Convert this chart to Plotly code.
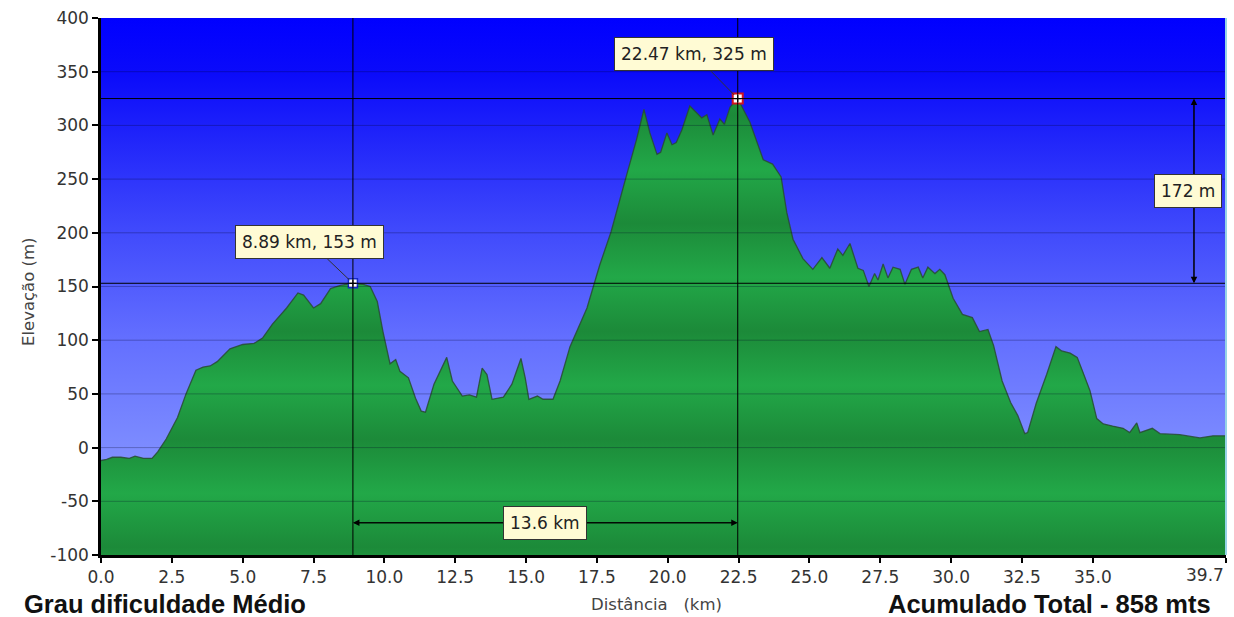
import plotly.graph_objects as go

# ---------------- data ----------------
distance_km = [
    0.0, 0.2, 0.4, 0.7, 1.0, 1.2, 1.5, 1.8, 2.0, 2.3, 2.7, 3.0, 3.35, 3.6, 3.85, 4.1,
    4.55, 5.0, 5.4, 5.7, 6.05, 6.55, 6.95, 7.15, 7.5, 7.75, 8.1, 8.45, 8.89, 9.25,
    9.5, 9.75, 9.95, 10.2, 10.4, 10.55, 10.85, 11.1, 11.3, 11.45, 11.75, 12.2, 12.4,
    12.75, 13.0, 13.25, 13.45, 13.62, 13.8, 14.2, 14.5, 14.82, 14.97, 15.1, 15.4,
    15.6, 15.95, 16.2, 16.55, 17.15, 17.6, 18.0, 18.55, 18.9, 19.16, 19.37, 19.62,
    19.75, 19.97, 20.15, 20.3, 20.5, 20.78, 21.03, 21.2, 21.38, 21.6, 21.84, 22.0,
    22.2, 22.47, 22.9, 23.37, 23.7, 24.0, 24.2, 24.42, 24.77, 25.12, 25.44, 25.72,
    26.0, 26.18, 26.43, 26.71, 26.9, 27.1, 27.3, 27.42, 27.6, 27.77, 27.95, 28.2,
    28.37, 28.6, 28.84, 29.0, 29.18, 29.43, 29.6, 29.78, 30.07, 30.4, 30.75, 31.0,
    31.3, 31.5, 31.8, 32.1, 32.35, 32.6, 32.7, 33.0, 33.37, 33.7, 33.9, 34.2, 34.45,
    34.65, 34.9, 35.14, 35.37, 35.7, 36.07, 36.3, 36.55, 36.66, 37.1, 37.37, 38.07,
    38.78, 39.24, 39.7,
]
elevation_m = [
    -12, -11, -9, -9, -10, -8, -10, -10, -4, 8, 28, 50, 72, 75, 76, 80,
    92, 96, 97, 102, 115, 130, 144, 142, 130, 134, 148, 151, 153, 152,
    150, 136, 108, 78, 82, 71, 65, 46, 34, 33, 59, 84, 62,
    48, 49, 47, 74, 68, 45, 47, 59, 83, 65, 45, 48,
    45, 45, 62, 94, 130, 170, 201, 254, 287, 315, 293, 273,
    275, 293, 282, 284, 296, 318, 312, 307, 310, 291, 306, 301,
    317, 325, 303, 268, 264, 252, 219, 194, 176, 166, 177, 167,
    185, 179, 190, 167, 165, 150, 162, 156, 171, 158, 168, 166,
    152, 166, 168, 158, 168, 162, 166, 161, 139, 124, 121, 108,
    110, 95, 62, 42, 30, 13, 14, 41, 68, 94, 90, 88, 84,
    71, 53, 27, 22, 20, 18, 14, 23, 14, 18, 13, 12,
    9, 11, 11,
]

x_range = [0.0, 39.7]
y_range = [-100, 400]
x_ticks = [0.0, 2.5, 5.0, 7.5, 10.0, 12.5, 15.0, 17.5, 20.0, 22.5, 25.0, 27.5, 30.0, 32.5, 35.0, 39.7]
y_ticks = [-100, -50, 0, 50, 100, 150, 200, 250, 300, 350, 400]

point_a = (8.89, 153)
point_b = (22.47, 325)
label_a = "8.89 km, 153 m"
label_b = "22.47 km, 325 m"
dist_label = "13.6 km"
elev_label = "172 m"
dist_arrow_y = -70
elev_arrow_x = 38.57

x_title = "Distância\u00a0\u00a0\u00a0(km)"
y_title = "Elevação (m)"
left_note = "Grau dificuldade Médio"
right_note = "Acumulado Total - 858 mts"

# ---------------- styles ----------------
sky_scale = [
    [0.0, "rgb(150,165,255)"],
    [0.2, "rgb(125,140,255)"],
    [0.4, "rgb(100,112,255)"],
    [0.6, "rgb(65,75,252)"],
    [0.8, "rgb(28,32,250)"],
    [0.9, "rgb(10,10,250)"],
    [1.0, "rgb(0,0,255)"],
]
light_g = "rgb(34,168,72)"
dark_g = "rgb(28,138,57)"
green_scale = [[0.0, "rgb(30,148,62)"]]
for k in range(5):
    d = 0.02 + k * 0.2
    green_scale.append([round(d, 4), dark_g])
    green_scale.append([round(d + 0.1, 4), light_g])
green_scale.append([1.0, "rgb(31,152,64)"])

fig = go.Figure()

# sky background
fig.add_trace(go.Scatter(
    x=[x_range[0], x_range[1], x_range[1], x_range[0], x_range[0]],
    y=[y_range[0], y_range[0], y_range[1], y_range[1], y_range[0]],
    mode="none", fill="toself",
    fillgradient=dict(type="vertical", colorscale=sky_scale, start=y_range[0], stop=y_range[1]),
    hoverinfo="skip", showlegend=False,
))

# terrain fill down to the axis bottom
fig.add_trace(go.Scatter(
    x=list(distance_km) + [x_range[1], x_range[0]],
    y=list(elevation_m) + [y_range[0], y_range[0]],
    mode="none", fill="toself",
    fillgradient=dict(type="vertical", colorscale=green_scale, start=y_range[0], stop=y_range[1]),
    hoverinfo="skip", showlegend=False,
))
# terrain outline
fig.add_trace(go.Scatter(
    x=distance_km, y=elevation_m, mode="lines",
    line=dict(color="rgba(40,75,50,0.85)", width=1.3),
    hoverinfo="skip", showlegend=False,
))

shapes = []
for v in y_ticks[1:-1]:
    shapes.append(dict(type="line", xref="paper", x0=0, x1=1, yref="y", y0=v, y1=v,
                       line=dict(color="rgba(0,0,40,0.28)", width=1), layer="above"))
for yv in (point_a[1], point_b[1]):
    shapes.append(dict(type="line", xref="paper", x0=0, x1=1, yref="y", y0=yv, y1=yv,
                       line=dict(color="black", width=1), layer="above"))
for xv in (point_a[0], point_b[0]):
    shapes.append(dict(type="line", yref="paper", y0=0, y1=1, xref="x", x0=xv, x1=xv,
                       line=dict(color="black", width=1), layer="above"))
shapes.append(dict(type="line", xref="paper", x0=1, x1=1, yref="paper", y0=0, y1=1,
                   line=dict(color="rgb(150,210,230)", width=2), layer="above"))

# markers
fig.add_trace(go.Scatter(
    x=[point_a[0]], y=[point_a[1]], mode="markers",
    marker=dict(symbol="square", size=9, color="white", line=dict(color="rgb(20,40,200)", width=1.5)),
    hoverinfo="skip", showlegend=False,
))
fig.add_trace(go.Scatter(
    x=[point_b[0]], y=[point_b[1]], mode="markers",
    marker=dict(symbol="square", size=10, color="white", line=dict(color="rgb(210,20,30)", width=2)),
    hoverinfo="skip", showlegend=False,
))
fig.add_trace(go.Scatter(
    x=[point_a[0], point_b[0]], y=[point_a[1], point_b[1]], mode="markers",
    marker=dict(symbol="cross-thin", size=5, color="black", line=dict(color="black", width=1.2)),
    hoverinfo="skip", showlegend=False,
))

box_font = dict(family="DejaVu Sans, Verdana, sans-serif", size=17, color="#222")
box_bg = "rgb(255,251,212)"
tick_font = dict(family="DejaVu Sans, Verdana, sans-serif", size=17, color="#333")
title_font = dict(family="DejaVu Sans, Verdana, sans-serif", size=16.5, color="#444")
note_font = dict(family="Liberation Sans, Arial, sans-serif", size=25.5, color="#111")
annotations = [
    dict(x=point_a[0], y=point_a[1], xref="x", yref="y", text=label_a, showarrow=True,
         ax=-43, ay=-41, arrowhead=0, arrowwidth=1, arrowcolor="#333", standoff=5,
         bgcolor=box_bg, bordercolor="#333", borderwidth=1, borderpad=6, font=box_font),
    dict(x=point_b[0], y=point_b[1], xref="x", yref="y", text=label_b, showarrow=True,
         ax=-44, ay=-45, arrowhead=0, arrowwidth=1, arrowcolor="#333", standoff=5,
         bgcolor=box_bg, bordercolor="#333", borderwidth=1, borderpad=6, font=box_font),
    dict(x=point_b[0], y=dist_arrow_y, ax=point_a[0], ay=dist_arrow_y, xref="x", yref="y",
         axref="x", ayref="y", text="", showarrow=True, arrowhead=2, arrowsize=1.3,
         arrowwidth=1, arrowcolor="black"),
    dict(x=point_a[0], y=dist_arrow_y, ax=point_b[0], ay=dist_arrow_y, xref="x", yref="y",
         axref="x", ayref="y", text="", showarrow=True, arrowhead=2, arrowsize=1.3,
         arrowwidth=1, arrowcolor="black"),
    dict(x=(point_a[0] + point_b[0]) / 2, y=dist_arrow_y, xref="x", yref="y", text=dist_label,
         showarrow=False, bgcolor=box_bg, bordercolor="#333", borderwidth=1, borderpad=6, font=box_font),
    dict(x=elev_arrow_x, y=point_b[1], ax=elev_arrow_x, ay=point_a[1], xref="x", yref="y",
         axref="x", ayref="y", text="", showarrow=True, arrowhead=2, arrowsize=1.3,
         arrowwidth=1, arrowcolor="black"),
    dict(x=elev_arrow_x, y=point_a[1], ax=elev_arrow_x, ay=point_b[1], xref="x", yref="y",
         axref="x", ayref="y", text="", showarrow=True, arrowhead=2, arrowsize=1.3,
         arrowwidth=1, arrowcolor="black"),
    dict(x=elev_arrow_x - 0.2, y=(point_a[1] + point_b[1]) / 2, xref="x", yref="y", text=elev_label,
         showarrow=False, bgcolor=box_bg, bordercolor="#333", borderwidth=1, borderpad=6, font=box_font),
    # last x tick label, right-aligned at the axis end
    dict(x=x_ticks[-1], y=-0.038, xref="x", yref="paper", text=f"{x_ticks[-1]:.1f}",
         showarrow=False, xanchor="right", yanchor="middle", font=tick_font),
    dict(x=0.494, y=-0.092, xref="paper", yref="paper", text=x_title, showarrow=False,
         yanchor="middle", font=title_font),
    dict(x=-0.0745, y=0.491, xref="paper", yref="paper", text=y_title, showarrow=False,
         textangle=-90, font=title_font),
    dict(x=-0.0705, y=-0.092, xref="paper", yref="paper", text="<b>" + left_note + "</b>",
         showarrow=False, xanchor="left", yanchor="middle", font=note_font),
    dict(x=0.9884, y=-0.092, xref="paper", yref="paper", text="<b>" + right_note + "</b>",
         showarrow=False, xanchor="right", yanchor="middle", font=note_font),
]

x_ticktext = [f"{v:.1f}" for v in x_ticks[:-1]] + [""]
y_ticktext = [str(v) for v in y_ticks]

fig.update_layout(
    width=1234, height=617,
    margin=dict(l=101, r=8, t=15, b=62),
    paper_bgcolor="white", plot_bgcolor="white",
    shapes=shapes, annotations=annotations,
    showlegend=False,
    xaxis=dict(range=x_range, tickvals=x_ticks, ticktext=x_ticktext,
               showgrid=False, zeroline=False, showline=True, linecolor="black", linewidth=2.5,
               ticks="outside", ticklen=5, tickwidth=2, tickcolor="black", tickfont=tick_font,
               layer="above traces", fixedrange=True),
    yaxis=dict(range=y_range, tickvals=y_ticks, ticktext=y_ticktext, showgrid=False,
               zeroline=False, showline=True,
               linecolor="black", linewidth=2.5, ticks="outside", ticklen=6, tickwidth=2,
               tickcolor="black", tickfont=tick_font, layer="above traces", fixedrange=True),
)

fig.write_html("out.html", config={"displayModeBar": False},
               post_script="document.body.style.margin='0px';document.body.style.overflow='hidden';")
